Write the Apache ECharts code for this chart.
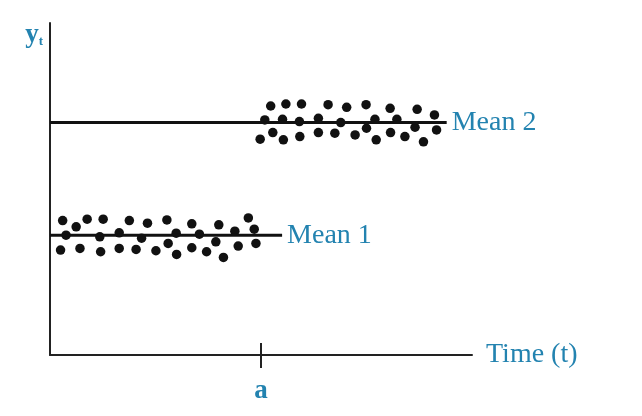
<!DOCTYPE html>
<html>
<head>
<meta charset="utf-8">
<script src="https://cdn.jsdelivr.net/npm/echarts@6/dist/echarts.min.js"></script>
<style>html,body{margin:0;padding:0;background:#fff}#c{width:642px;height:416px}</style>
</head>
<body>
<div id="c"></div>
<script>
// Regime change at time a: observations scattered around Mean 1, then around Mean 2
const breakTime = 50;           // "a"
const tickLabels = ['a'];
const mean1 = 36.1, mean2 = 70.0;
const mean1End = 55, mean2End = 94;
const period1Points = [
  [3.0,40.5],[6.2,38.6],[8.8,40.9],[12.6,40.9],[18.8,40.5],[23.1,39.7],[27.7,40.7],[33.6,39.5],[40.0,39.2],[47.0,41.3],
  [3.8,36.1],[11.8,35.6],[16.4,36.8],[21.7,35.2],[29.9,36.7],[35.4,36.4],[39.3,34.1],[43.8,37.3],[48.4,37.9],
  [2.5,31.6],[7.1,32.1],[12.0,31.1],[16.4,32.1],[20.4,31.8],[25.1,31.4],[28.0,33.6],[30.0,30.3],[33.6,32.3],[37.1,31.1],[41.1,29.4],[44.6,32.8],[48.8,33.6]
];
const period2Points = [
  [52.3,75.0],[55.9,75.6],[59.6,75.6],[65.9,75.4],[70.3,74.6],[74.9,75.4],[80.6,74.3],[87.0,74.0],[91.1,72.3],
  [50.9,70.8],[55.1,71.0],[59.1,70.3],[63.6,71.3],[68.9,70.0],[75.0,68.3],[77.0,71.0],[82.2,71.0],[86.5,68.6],[91.6,67.8],
  [49.8,65.0],[52.8,67.0],[55.3,64.8],[59.2,65.8],[63.6,67.0],[67.5,66.8],[72.3,66.3],[77.3,64.8],[80.7,67.0],[84.1,65.8],[88.5,64.2]
];

const BLUE = '#2383b0';
const FONT = 'Liberation Serif';
const chart = echarts.init(document.getElementById('c'), null, {renderer: 'canvas'});
chart.setOption({
  animation: false,
  backgroundColor: '#fff',
  grid: {left: 50, right: 170, top: 23, bottom: 61, containLabel: false},
  xAxis: [{
    type: 'value', min: 0, max: 100, position: 'bottom',
    name: 'Time (t)', nameLocation: 'end', nameGap: 14,
    nameTextStyle: {color: BLUE, fontFamily: FONT, fontSize: 28, verticalAlign: 'middle'},
    axisLine: {show: true, lineStyle: {color: '#222', width: 2}},
    axisTick: {show: true, inside: false, length: 13, customValues: [breakTime], lineStyle: {color: '#222', width: 2}},
    axisLabel: {show: true, customValues: [breakTime], formatter: () => tickLabels[0], margin: 23,
      color: BLUE, fontFamily: FONT, fontSize: 27, fontWeight: 'bold'},
    splitLine: {show: false}
  }, {
    type: 'value', min: 0, max: 100, position: 'bottom', gridIndex: 0,
    axisLine: {show: false},
    axisTick: {show: true, inside: true, length: 12, customValues: [breakTime], lineStyle: {color: '#222', width: 2}},
    axisLabel: {show: false},
    splitLine: {show: false}
  }],
  yAxis: {
    type: 'value', min: 0, max: 100,
    name: '{y|y}{t|t}', nameLocation: 'end', nameGap: -12,
    nameTextStyle: {align: 'right', verticalAlign: 'middle', padding: [0, 7, 0, 0],
      rich: {
        y: {color: BLUE, fontFamily: FONT, fontSize: 27, fontWeight: 'bold'},
        t: {color: BLUE, fontFamily: FONT, fontSize: 13, fontWeight: 'bold', verticalAlign: 'bottom', padding: [10, 0, 0, 0]}
      }},
    axisLine: {show: true, lineStyle: {color: '#222', width: 2}},
    axisTick: {show: false},
    axisLabel: {show: false},
    splitLine: {show: false}
  },
  series: [
    {
      name: 'Mean 1', type: 'line', data: [[0, mean1], [mean1End, mean1]], symbol: 'none',
      lineStyle: {color: '#111', width: 3},
      endLabel: {show: true, formatter: '{a}', distance: 5, color: BLUE, fontFamily: FONT, fontSize: 28}
    },
    {
      name: 'Mean 2', type: 'line', data: [[0, mean2], [mean2End, mean2]], symbol: 'none',
      lineStyle: {color: '#111', width: 3},
      endLabel: {show: true, formatter: '{a}', distance: 5, color: BLUE, fontFamily: FONT, fontSize: 28}
    },
    {type: 'scatter', data: period1Points, symbolSize: 9.5, itemStyle: {color: '#111', opacity: 1}},
    {type: 'scatter', data: period2Points, symbolSize: 9.5, itemStyle: {color: '#111', opacity: 1}}
  ]
});
</script>
</body>
</html>
